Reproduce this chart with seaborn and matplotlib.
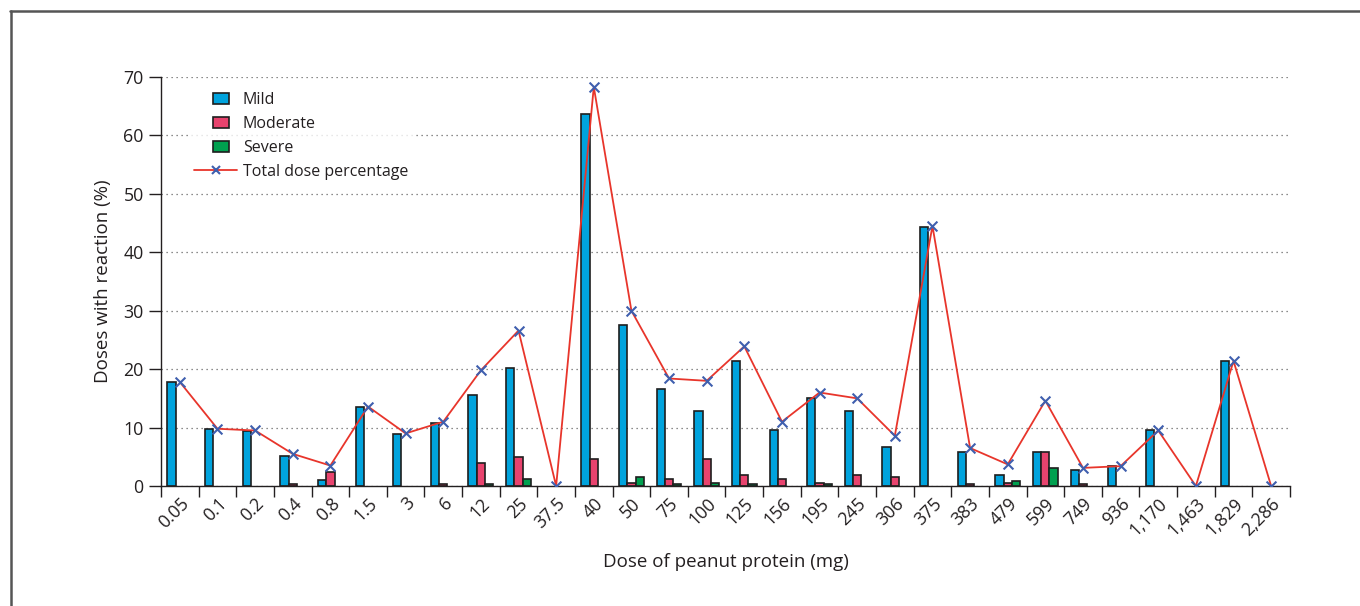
import numpy as np
import pandas as pd
import seaborn as sns
import matplotlib.pyplot as plt
from matplotlib.patches import Patch, Rectangle
from matplotlib.lines import Line2D
from matplotlib.legend_handler import HandlerPatch

## 데이터
doses = ["0.05", "0.1", "0.2", "0.4", "0.8", "1.5", "3", "6", "12", "25",
         "37.5", "40", "50", "75", "100", "125", "156", "195", "245", "306",
         "375", "383", "479", "599", "749", "936", "1,170", "1,463", "1,829", "2,286"]
mild = [17.8, 9.8, 9.4, 5.2, 1.1, 13.5, 8.9, 10.8, 15.6, 20.2,
        0.0, 63.6, 27.6, 16.6, 12.9, 21.4, 9.5, 15.0, 12.9, 6.7,
        44.4, 5.8, 1.8, 5.8, 2.7, 3.4, 9.5, 0.0, 21.4, 0.0]
moderate = [0.0, 0.0, 0.0, 0.3, 2.4, 0.0, 0.0, 0.3, 3.9, 4.9,
            0.0, 4.6, 0.6, 1.2, 4.6, 1.8, 1.2, 0.6, 1.8, 1.5,
            0.0, 0.3, 0.6, 5.8, 0.3, 0.0, 0.0, 0.0, 0.0, 0.0]
severe = [0.0, 0.0, 0.0, 0.0, 0.0, 0.0, 0.0, 0.0, 0.3, 1.2,
          0.0, 0.0, 1.5, 0.3, 0.6, 0.3, 0.0, 0.3, 0.0, 0.0,
          0.0, 0.0, 0.9, 3.0, 0.0, 0.0, 0.0, 0.0, 0.0, 0.0]
total = [17.8, 9.8, 9.5, 5.5, 3.5, 13.6, 9.0, 11.0, 19.8, 26.6,
         0.0, 68.3, 30.0, 18.4, 18.0, 23.9, 11.0, 16.0, 15.0, 8.6,
         44.5, 6.5, 3.7, 14.6, 3.1, 3.4, 9.5, 0.0, 21.4, 0.0]

levels = ["Mild", "Moderate", "Severe"]
colors = ["#00a3dd", "#e8436e", "#00a04f"]

df = pd.DataFrame({"dose": doses, "Mild": mild, "Moderate": moderate, "Severe": severe})
long = df.melt(id_vars="dose", var_name="severity", value_name="pct")

sns.set_theme(style="white")
plt.rcParams['font.family'] = ['Open Sans', 'DejaVu Sans']

fig = plt.figure(figsize=(13.6, 6.06), dpi=100)
ax = fig.add_axes([0.1184, 0.198, 0.8301, 0.675])

sns.barplot(data=long, x="dose", y="pct", hue="severity", order=doses,
            hue_order=levels, palette=colors, saturation=1, width=0.66, gap=0,
            edgecolor="#1e1e1e", linewidth=1.2, legend=False, ax=ax)
# 값이 0인 막대는 테두리도 안 보이게
for p in ax.patches:
    if p.get_height() == 0:
        p.set_visible(False)

sns.pointplot(x=doses, y=total, order=doses, color="#e8352b", markers="",
              linestyles="-", linewidth=1.3, ax=ax)
sns.scatterplot(x=np.arange(len(doses)), y=total, marker="x", color="#3f5fae",
                s=50, linewidth=1.5, zorder=5, ax=ax)

ax.set_xlim(-0.5, len(doses) - 0.5)
ax.set_ylim(0, 70)
ax.set_yticks(range(0, 71, 10))
ax.yaxis.grid(True, linestyle=(0, (1, 3)), color="#666666", linewidth=0.9)
ax.set_axisbelow(True)

# 눈금은 범주 경계에, 레이블은 가운데에
ax.set_xticks(np.arange(-0.5, len(doses), 1.0))
ax.set_xticklabels([])
ax.set_xticks(np.arange(len(doses)), minor=True)
ax.set_xticklabels(doses, minor=True, rotation=45, ha="right",
                   rotation_mode="anchor", fontsize=12.8, color="#231f20")
ax.tick_params(axis="x", which="major", length=8, width=1.0, color="#231f20", direction="out", bottom=True)
ax.tick_params(axis="x", which="minor", length=0, pad=6)
ax.tick_params(axis="y", length=8.5, width=1.0, color="#231f20", direction="out", left=True,
               labelsize=12.8, labelcolor="#231f20", pad=4)

for s in ["top", "right"]:
    ax.spines[s].set_visible(False)
for s in ["left", "bottom"]:
    ax.spines[s].set_color("#231f20")
    ax.spines[s].set_linewidth(1.0)

ax.set_xlabel("Dose of peanut protein (mg)", fontsize=13.5, color="#231f20", labelpad=10)
ax.set_ylabel("Doses with reaction (%)", fontsize=13.5, color="#231f20", labelpad=8)


def small_box(legend, orig_handle, xdescent, ydescent, width, height, fontsize):
    # 범례 상자는 선보다 좁게
    return Rectangle((-xdescent + width * 0.44, -ydescent), width * 0.37, height)


handles = [Patch(facecolor=c, edgecolor="#1e1e1e", linewidth=1.2) for c in colors]
handles.append(Line2D([], [], color="#e8352b", linewidth=1.3, marker="x",
                      markeredgecolor="#3f5fae", markersize=6, markeredgewidth=1.5))
leg = ax.legend(handles, levels + ["Total dose percentage"], loc="upper left",
                bbox_to_anchor=(0.018, 0.995), frameon=True, fontsize=11.5,
                handlelength=2.7, handleheight=0.7, labelspacing=0.5,
                handletextpad=0.35, borderpad=0.3,
                handler_map={Patch: HandlerPatch(patch_func=small_box)})
leg.get_frame().set_facecolor("white")
leg.get_frame().set_edgecolor("none")
for t in leg.get_texts():
    t.set_color("#231f20")

# 바깥 테두리 (위, 왼쪽)
fig.add_artist(Line2D([0.0074, 1.0], [0.982, 0.982], transform=fig.transFigure,
                      color="#555555", linewidth=1.8))
fig.add_artist(Line2D([0.0081, 0.0081], [0.0, 0.982], transform=fig.transFigure,
                      color="#555555", linewidth=1.8))

fig.savefig("out.png", dpi=100)
